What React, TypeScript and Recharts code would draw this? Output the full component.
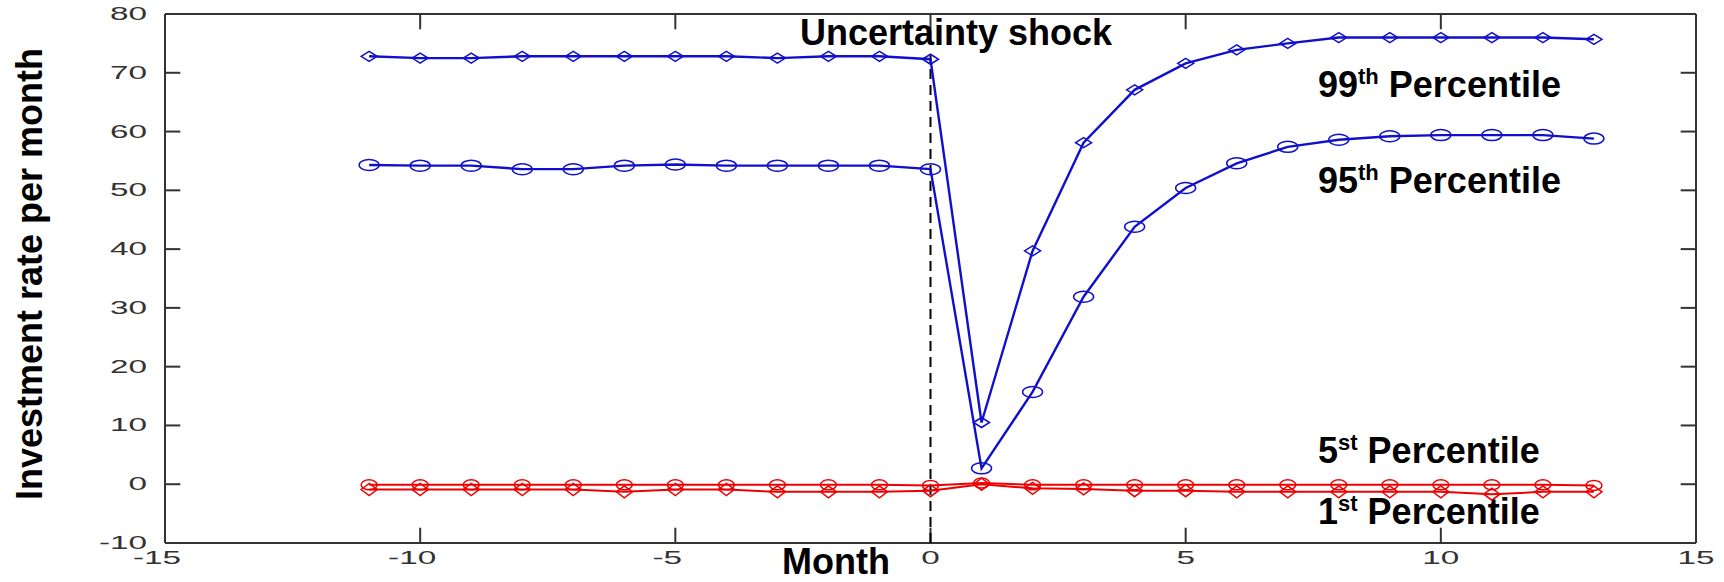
import React from 'react'
import {
  LineChart,
  Line,
  XAxis,
  YAxis,
  ReferenceLine
} from 'recharts'

const months = [-11, -10, -9, -8, -7, -6, -5, -4, -3, -2, -1, 0, 1, 2, 3, 4, 5, 6, 7, 8, 9, 10, 11, 12, 13]

const p99 = [72.8, 72.5, 72.5, 72.8, 72.8, 72.8, 72.8, 72.8, 72.5, 72.8, 72.8, 72.3, 10.5, 39.7, 58.1, 67.1, 71.6, 73.9, 75.0, 76.0, 76.0, 76.0, 76.0, 76.0, 75.7]
const p95 = [54.3, 54.2, 54.2, 53.6, 53.6, 54.2, 54.4, 54.2, 54.2, 54.2, 54.2, 53.6, 2.7, 15.7, 31.9, 43.8, 50.4, 54.6, 57.4, 58.6, 59.2, 59.4, 59.4, 59.4, 58.8]
const p5 = [-0.1, -0.1, -0.1, -0.1, -0.1, -0.1, -0.1, -0.1, -0.1, -0.1, -0.1, -0.2, 0.2, -0.1, -0.1, -0.1, -0.1, -0.1, -0.1, -0.1, -0.1, -0.1, -0.1, -0.1, -0.2]
const p1 = [-0.9, -0.9, -0.9, -0.9, -0.9, -1.3, -0.9, -0.9, -1.3, -1.3, -1.3, -1.1, 0.0, -0.7, -0.8, -1.1, -1.1, -1.3, -1.3, -1.3, -1.3, -1.3, -1.7, -1.3, -1.3]

const xTicks = [-15, -10, -5, 0, 5, 10, 15]
const yTicks = [-10, 0, 10, 20, 30, 40, 50, 60, 70, 80]

const data = months.map((m, i) => ({ month: m, p99: p99[i], p95: p95[i], p5: p5[i], p1: p1[i] }))

const X_MIN = -15
const X_MAX = 15
const Y_MIN = -10
const Y_MAX = 80
// inward tick length, in data units (~15px each way)
const TICK_DX = 0.3
const TICK_DY = 2.6

const BLUE = '#1010cc'
const RED = '#ee0000'
const AXIS = '#333'
const FONT = '"Liberation Sans", Arial, sans-serif'

function makeDiamond(color: string, hw: number, hh: number) {
  return (props: any) => {
    const { cx, cy, index } = props
    if (cx == null || cy == null) return <g key={index} />
    return (
      <polygon
        key={index}
        points={`${cx - hw},${cy} ${cx},${cy - hh} ${cx + hw},${cy} ${cx},${cy + hh}`}
        fill="none"
        stroke={color}
        strokeWidth={1.5}
      />
    )
  }
}

function makeEllipse(color: string, rx: number, ry: number) {
  return (props: any) => {
    const { cx, cy, index } = props
    if (cx == null || cy == null) return <g key={index} />
    return <ellipse key={index} cx={cx} cy={cy} rx={rx} ry={ry} fill="none" stroke={color} strokeWidth={1.5} />
  }
}

function YTickLabel({ x, y, payload }: any) {
  return (
    <text
      transform={`translate(${x},${y}) scale(1.85,1)`}
      textAnchor="end"
      dominantBaseline="central"
      fontSize={18}
      fill="#333"
      stroke="none"
      fontFamily={FONT}
    >
      {payload.value}
    </text>
  )
}

function XTickLabel({ x, y, payload }: any) {
  const dx = payload.value < 0 ? -8 : 0
  return (
    <text
      transform={`translate(${x + dx},${y}) scale(1.85,1)`}
      textAnchor="middle"
      dominantBaseline="central"
      fontSize={18}
      fill="#333"
      stroke="none"
      fontFamily={FONT}
    >
      {payload.value}
    </text>
  )
}

function Annotations() {
  const bold = { fontFamily: FONT, fontWeight: 700, fontSize: 36, fill: '#000' }
  const sup = (txt: string) => (
    <tspan fontSize={22} dy={-13}>{txt}</tspan>
  )
  return (
    <svg width={1724} height={582} style={{ position: 'absolute', left: 0, top: 0, pointerEvents: 'none' }}>
      <text x={800} y={45} {...bold}>Uncertainty shock</text>
      <text x={1318} y={97} {...bold}>99{sup('th')}<tspan dy={13}> Percentile</tspan></text>
      <text x={1318} y={193} {...bold}>95{sup('th')}<tspan dy={13}> Percentile</tspan></text>
      <text x={1318} y={463} {...bold}>5{sup('st')}<tspan dy={13}> Percentile</tspan></text>
      <text x={1318} y={524} {...bold}>1{sup('st')}<tspan dy={13}> Percentile</tspan></text>
      <text x={836} y={574} textAnchor="middle" {...bold}>Month</text>
      <text transform="translate(42,274) rotate(-90)" textAnchor="middle" {...bold}>Investment rate per month</text>
    </svg>
  )
}

export default function App() {
  const frame = { stroke: AXIS, strokeWidth: 2, ifOverflow: 'visible' as const }
  return (
    <div style={{ position: 'absolute', left: 0, top: 0, width: 1724, height: 582, background: '#fff', overflow: 'hidden' }}>
      <LineChart width={1724} height={582} data={data} margin={{ top: 14, right: 28, left: 105, bottom: 9 }}>
        <XAxis
          dataKey="month"
          type="number"
          domain={[X_MIN, X_MAX]}
          ticks={xTicks}
          height={30}
          tickSize={0}
          tickMargin={15}
          tick={<XTickLabel />}
          axisLine={false}
          tickLine={false}
        />
        <YAxis
          type="number"
          domain={[Y_MIN, Y_MAX]}
          ticks={yTicks}
          width={60}
          tickSize={0}
          tickMargin={18}
          tick={<YTickLabel />}
          axisLine={false}
          tickLine={false}
        />
        {/* box */}
        <ReferenceLine x={X_MIN} {...frame} />
        <ReferenceLine x={X_MAX} {...frame} />
        <ReferenceLine y={Y_MIN} {...frame} />
        <ReferenceLine y={Y_MAX} {...frame} />
        {/* inward ticks on all four sides */}
        {yTicks.map((v) => (
          <ReferenceLine key={`yl${v}`} segment={[{ x: X_MIN, y: v }, { x: X_MIN + TICK_DX, y: v }]} {...frame} />
        ))}
        {yTicks.map((v) => (
          <ReferenceLine key={`yr${v}`} segment={[{ x: X_MAX - TICK_DX, y: v }, { x: X_MAX, y: v }]} {...frame} />
        ))}
        {xTicks.map((v) => (
          <ReferenceLine key={`xb${v}`} segment={[{ x: v, y: Y_MIN }, { x: v, y: Y_MIN + TICK_DY }]} {...frame} />
        ))}
        {xTicks.map((v) => (
          <ReferenceLine key={`xt${v}`} segment={[{ x: v, y: Y_MAX - TICK_DY }, { x: v, y: Y_MAX }]} {...frame} />
        ))}
        <ReferenceLine
          segment={[{ x: 0, y: Y_MIN }, { x: 0, y: 73 }]}
          stroke="#000"
          strokeWidth={2}
          strokeDasharray="10 6"
        />
        <Line dataKey="p1" stroke={RED} strokeWidth={2} dot={makeDiamond(RED, 8, 6)} isAnimationActive={false} />
        <Line dataKey="p5" stroke={RED} strokeWidth={2} dot={makeEllipse(RED, 8, 5)} isAnimationActive={false} />
        <Line dataKey="p95" stroke={BLUE} strokeWidth={2.4} dot={makeEllipse(BLUE, 10, 5.5)} isAnimationActive={false} />
        <Line dataKey="p99" stroke={BLUE} strokeWidth={2.4} dot={makeDiamond(BLUE, 8, 5)} isAnimationActive={false} />
      </LineChart>
      <Annotations />
    </div>
  )
}
